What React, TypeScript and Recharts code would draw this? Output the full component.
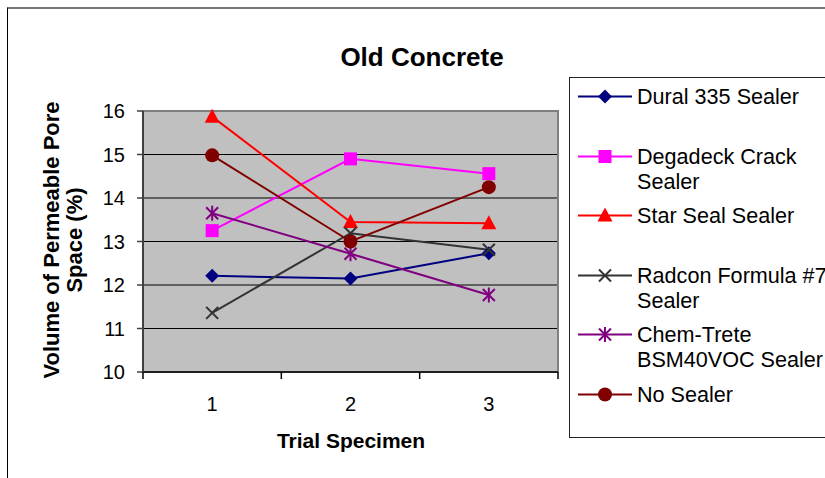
import React from "react";
import { LineChart, Line, XAxis, YAxis, CartesianGrid, ReferenceArea } from "recharts";

// trial specimens on the x axis
const trials = [1, 2, 3];
const xLabelTicks = [1, 2, 3];
const xBoundaryTicks = [0.5, 1.5, 2.5, 3.5];
const yTicks = [10, 11, 12, 13, 14, 15, 16];

// volume of permeable pore space (%)
const dural = [12.21, 12.15, 12.73];
const degadeck = [13.25, 14.9, 14.56];
const starSeal = [15.87, 13.45, 13.42];
const radcon = [11.36, 13.19, 12.81];
const chemTrete = [13.65, 12.72, 11.77];
const noSealer = [14.98, 13.0, 14.25];

const FONT = "'Liberation Sans', Arial, Helvetica, sans-serif";

const series = [
  { key: "dural", name: "Dural 335 Sealer", color: "#000080", marker: "diamond", values: dural },
  { key: "degadeck", name: "Degadeck Crack Sealer", color: "#FF00FF", marker: "square", values: degadeck },
  { key: "starSeal", name: "Star Seal Sealer", color: "#FF0000", marker: "triangle", values: starSeal },
  { key: "radcon", name: "Radcon Formula #7 Sealer", color: "#333333", marker: "x", values: radcon },
  { key: "chemTrete", name: "Chem-Trete BSM40VOC Sealer", color: "#800080", marker: "star", values: chemTrete },
  { key: "noSealer", name: "No Sealer", color: "#800000", marker: "circle", values: noSealer },
];

const data = trials.map((t, i) => {
  const row: any = { trial: t };
  series.forEach((s) => (row[s.key] = s.values[i]));
  return row;
});

function Marker({ type, color, cx, cy }: { type: string; color: string; cx: number; cy: number }) {
  if (cx == null || cy == null) return null;
  switch (type) {
    case "diamond":
      return <polygon points={`${cx},${cy - 7} ${cx + 7},${cy} ${cx},${cy + 7} ${cx - 7},${cy}`} fill={color} />;
    case "square":
      return <rect x={cx - 6.5} y={cy - 6.5} width={13} height={13} fill={color} />;
    case "triangle":
      return <polygon points={`${cx},${cy - 8} ${cx + 7.5},${cy + 6} ${cx - 7.5},${cy + 6}`} fill={color} />;
    case "x":
      return (
        <g stroke={color} strokeWidth={2}>
          <line x1={cx - 6} y1={cy - 6} x2={cx + 6} y2={cy + 6} />
          <line x1={cx - 6} y1={cy + 6} x2={cx + 6} y2={cy - 6} />
        </g>
      );
    case "star":
      return (
        <g stroke={color} strokeWidth={2}>
          <line x1={cx - 6} y1={cy - 6} x2={cx + 6} y2={cy + 6} />
          <line x1={cx - 6} y1={cy + 6} x2={cx + 6} y2={cy - 6} />
          <line x1={cx} y1={cy - 7.5} x2={cx} y2={cy + 7.5} />
        </g>
      );
    default:
      return <circle cx={cx} cy={cy} r={7} fill={color} />;
  }
}

// integer ticks get a label, half ticks get the small mark between categories
function XTick(props: any) {
  const { x, y, payload } = props;
  if (Number.isInteger(payload.value)) {
    return (
      <text x={x} y={y + 39} textAnchor="middle" fontSize={20} fontFamily={FONT} fill="#000">
        {payload.value}
      </text>
    );
  }
  return <line x1={x} y1={y} x2={x} y2={y + 7} stroke="#000" strokeWidth={1.5} />;
}

function LegendBox() {
  return (
    <div
      style={{
        position: "absolute",
        left: 569,
        top: 77,
        width: 300,
        height: 359,
        border: "1px solid #222",
        background: "#fff",
        fontFamily: FONT,
        fontSize: 21.6,
        lineHeight: "25px",
        color: "#000",
      }}
    >
      {series.map((s, i) => (
        <div key={s.key} style={{ position: "absolute", top: 6 + i * 59.5, left: 0, display: "flex" }}>
          <svg width={66} height={25} style={{ flex: "none" }}>
            <line x1={8} y1={12.5} x2={62} y2={12.5} stroke={s.color} strokeWidth={2} />
            <Marker type={s.marker} color={s.color} cx={35} cy={12.5} />
          </svg>
          <div style={{ width: 205, marginLeft: 1 }}>{s.name}</div>
        </div>
      ))}
    </div>
  );
}

export default function App() {
  return (
    <div style={{ position: "absolute", left: 0, top: 0, width: 825, height: 478, background: "#fff", overflow: "hidden" }}>
      <div
        style={{
          position: "absolute",
          left: 7,
          top: 7,
          width: 900,
          height: 500,
          borderTop: "2px solid #777",
          borderLeft: "1.5px solid #000",
        }}
      />
      <div style={{ position: "absolute", left: 0, top: 0 }}>
        <LineChart width={825} height={478} data={data} margin={{ top: 111, right: 267, bottom: 66, left: 83 }}>
          <CartesianGrid vertical={false} stroke="#000" fill="#C0C0C0" fillOpacity={1} />
          <ReferenceArea x1={0.5} x2={3.5} y1={10} y2={16} fill="none" stroke="#808080" strokeWidth={2} />
          <XAxis
            dataKey="trial"
            type="number"
            domain={[0.5, 3.5]}
            ticks={[...xBoundaryTicks, ...xLabelTicks].sort((a, b) => a - b)}
            interval={0}
            tickLine={false}
            tickSize={0}
            tickMargin={0}
            tick={<XTick />}
            axisLine={{ stroke: "#000", strokeWidth: 1.5 }}
            height={40}
          />
          <YAxis
            type="number"
            domain={[10, 16]}
            ticks={yTicks}
            interval={0}
            width={60}
            tickSize={6}
            tickMargin={12}
            tick={{ fontSize: 20, fontFamily: FONT, fill: "#000" }}
            tickLine={{ stroke: "#404040", strokeWidth: 1.5 }}
            axisLine={{ stroke: "#404040", strokeWidth: 2 }}
          />
          {series.map((s) => (
            <Line
              key={s.key}
              dataKey={s.key}
              name={s.name}
              stroke={s.color}
              strokeWidth={2}
              type="linear"
              isAnimationActive={false}
              dot={(p: any) => <Marker key={`${s.key}-${p.index}`} type={s.marker} color={s.color} cx={p.cx} cy={p.cy} />}
              activeDot={false}
            />
          ))}
        </LineChart>
      </div>
      <div
        style={{
          position: "absolute",
          left: 222,
          width: 400,
          top: 42,
          textAlign: "center",
          fontFamily: FONT,
          fontWeight: "bold",
          fontSize: 26,
          lineHeight: "30px",
        }}
      >
        Old Concrete
      </div>
      <div
        style={{
          position: "absolute",
          left: 151,
          width: 400,
          top: 428,
          textAlign: "center",
          fontFamily: FONT,
          fontWeight: "bold",
          fontSize: 21,
          lineHeight: "26px",
        }}
      >
        Trial Specimen
      </div>
      <div
        style={{
          position: "absolute",
          left: 63.5 - 170,
          top: 240 - 24,
          width: 340,
          height: 48,
          transform: "rotate(-90deg)",
          textAlign: "center",
          fontFamily: FONT,
          fontWeight: "bold",
          fontSize: 22,
          lineHeight: "23px",
        }}
      >
        Volume of Permeable Pore
        <br />
        Space (%)
      </div>
      <LegendBox />
    </div>
  );
}
